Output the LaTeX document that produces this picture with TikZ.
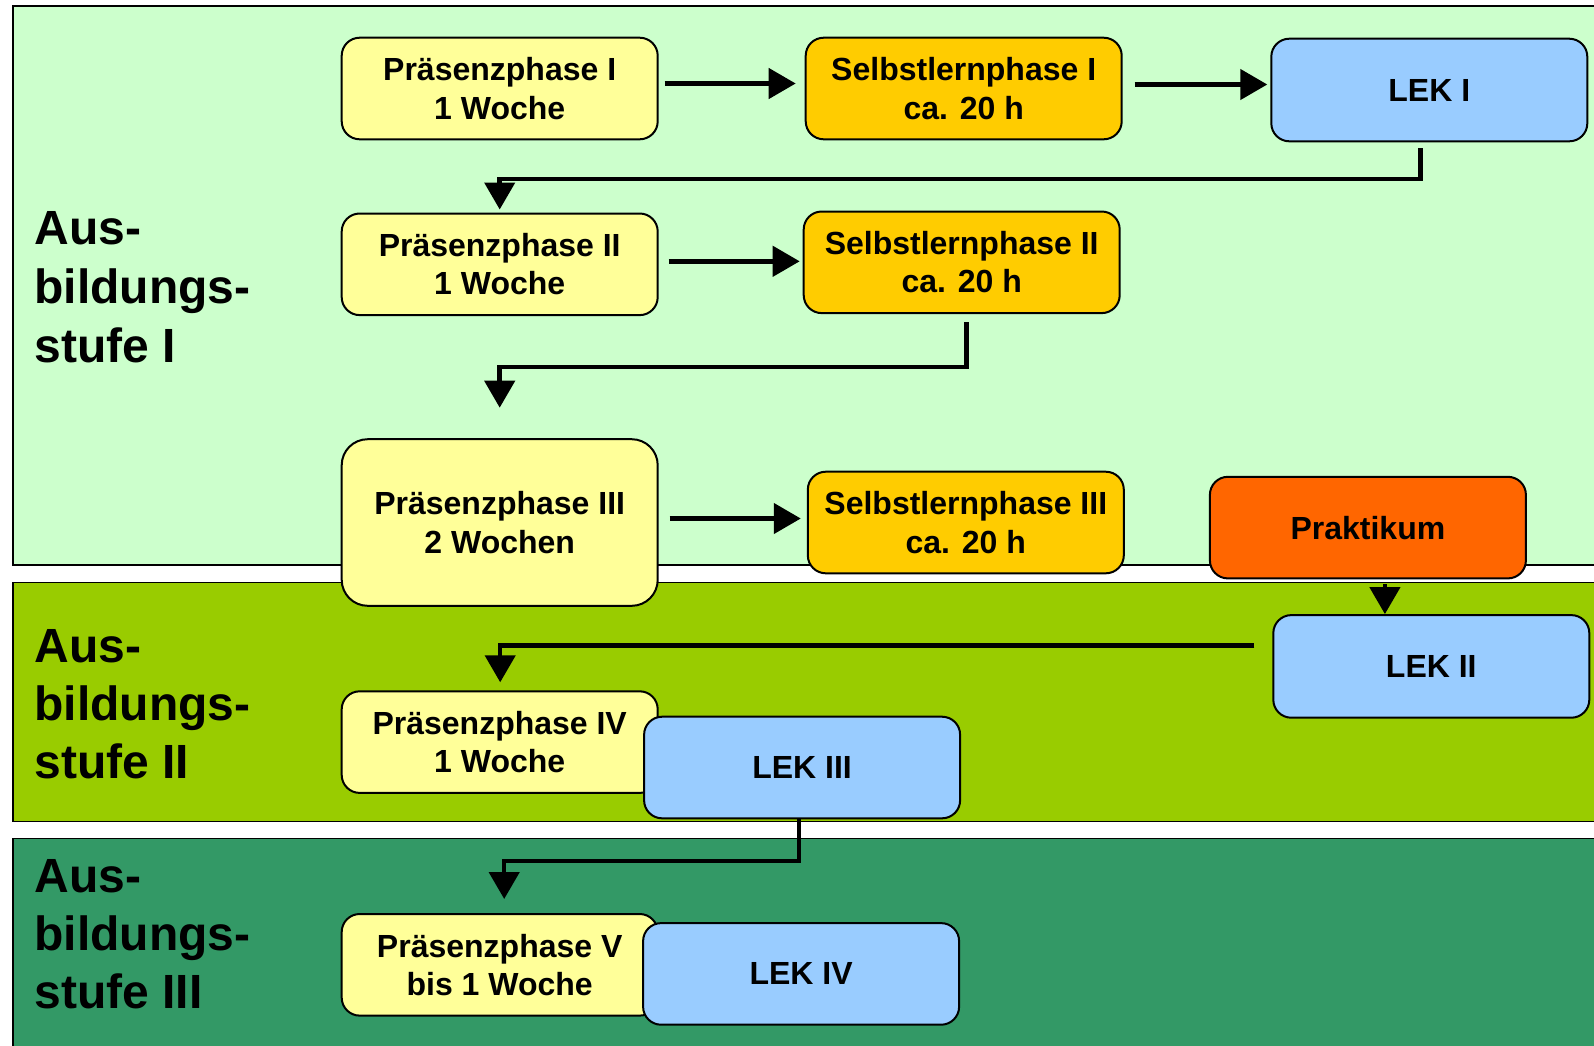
\documentclass[tikz,border=0pt]{standalone}
\usepackage{fontspec}
\setmainfont{Liberation Sans}
\usetikzlibrary{arrows.meta}
\definecolor{bandA}{HTML}{CCFFCC}
\definecolor{bandB}{HTML}{99CC00}
\definecolor{bandC}{HTML}{339966}
\definecolor{praes}{HTML}{FFFF99}
\definecolor{selbst}{HTML}{FFCC00}
\definecolor{lekc}{HTML}{99CCFF}
\definecolor{prakt}{HTML}{FF6600}
\begin{document}
\begin{tikzpicture}[x=0.5pt,y=-0.5pt,
  band/.style={draw=black,line width=0.75pt},
  phasebox/.style={draw=black,line width=1pt,rounded corners=9pt,minimum width=158pt,minimum height=50.8pt,inner sep=0pt,align=center,font=\bfseries\fontsize{16pt}{19.2pt}\selectfont},
  praesbox/.style={phasebox,fill=praes},
  selbstbox/.style={phasebox,fill=selbst},
  lekbox/.style={phasebox,fill=lekc},
  praktbox/.style={phasebox,fill=prakt},
  conn/.style={line width=2.25pt,-{Triangle[length=13.5pt,width=15pt]}},
  stage/.style={anchor=base west,inner sep=0pt,font=\bfseries\fontsize{24pt}{29.5pt}\selectfont}]

\useasboundingbox (0,0) rectangle (1594,1045);
\clip (0,0) rectangle (1594,1045);
\fill[white] (0,0) rectangle (1594,1045);

% bands
\draw[band,fill=bandA] (13,6) rectangle (1620,565);
\draw[band,fill=bandB] (13,582.5) rectangle (1620,821.4);
\draw[band,fill=bandC] (13,838.7) rectangle (1620,1080);

% stage labels
\node[stage] (s1a) at (34,244) {Aus-};
\node[stage] (s1b) at (34,303) {bildungs-};
\node[stage] (s1c) at (34,362.5) {stufe I};
\node[stage] (s2a) at (34,662) {Aus-};
\node[stage] (s2b) at (34,720) {bildungs-};
\node[stage] (s2c) at (34,778) {stufe II};
\node[stage] (s3a) at (34,892) {Aus-};
\node[stage] (s3b) at (34,950.5) {bildungs-};
\node[stage] (s3c) at (34,1008.5) {stufe III};

% boxes
\node[praesbox] (p1) at (499.7,88.5) {Präsenzphase I\\1 Woche};
\node[selbstbox] (sl1) at (963.7,88.5) {Selbstlernphase I\\ca. 20 h};
\node[lekbox,minimum height=51.3pt] (lek1) at (1429.3,90) {LEK I};
\node[praesbox] (p2) at (499.7,264.3) {Präsenzphase II\\1 Woche};
\node[selbstbox] (sl2) at (961.7,262.3) {Selbstlernphase II\\ca. 20 h};
\node[praesbox,minimum height=83.3pt,rounded corners=13pt] (p3) at (499.7,522.5) {Präsenzphase III\\2 Wochen};
\node[selbstbox] (sl3) at (965.8,522.5) {Selbstlernphase III\\ca. 20 h};
\node[praktbox] (pr) at (1367.9,527.6) {Praktikum};
\node[lekbox,minimum height=51.3pt] (lek2) at (1431.3,666.4) {LEK II};
\node[praesbox] (p4) at (499.7,742.1) {Präsenzphase IV\\1 Woche};
\node[lekbox] (lek3) at (802.1,767.5) {LEK III};
\node[praesbox] (p5) at (499.7,964.8) {Präsenzphase V\\bis 1 Woche};
\node[lekbox] (lek4) at (801.1,973.9) {LEK IV};

% connectors
\draw[conn] ([shift={(6,-5)}]p1.east) -- ([shift={(-9,-5)}]sl1.west);
\draw[conn] ([shift={(12,-4)}]sl1.east) -- ([shift={(-3,-5.5)}]lek1.west);
\draw[conn] ([shift={(-9,6)}]lek1.south) |- ([shift={(0,-33.5)}]p2.north) -- ([shift={(0,-3)}]p2.north);
\draw[conn] ([shift={(10,-3)}]p2.east) -- ([shift={(-3,-1)}]sl2.west);
\draw[conn] ([shift={(5,8)}]sl2.south) |- ([shift={(0,-71)}]p3.north) -- ([shift={(0,-30.5)}]p3.north);
\draw[conn] ([shift={(11,-4)}]p3.east) -- ([shift={(-6,-4)}]sl3.west);
\draw[conn] ([shift={(17,5)}]pr.south) -- ([shift={(17,0)}]pr.south |- lek2.north);
\draw[conn] ([shift={(-18,-21)}]lek2.west) -| ([shift={(0.5,-8)}]p4.north);
\draw[conn] ([shift={(-3,0)}]lek3.south) |- ([shift={(4.5,-52)}]p5.north) -- ([shift={(4.5,-14)}]p5.north);
\end{tikzpicture}
\end{document}
